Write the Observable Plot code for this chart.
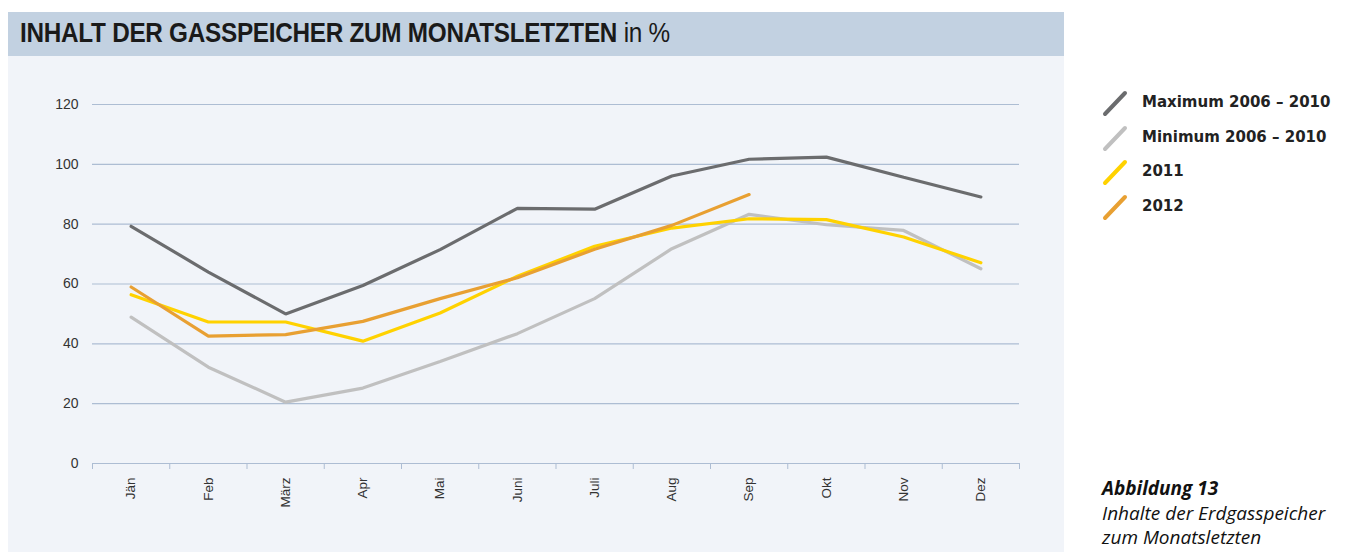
<!DOCTYPE html>
<html><head><meta charset="utf-8">
<script src="https://cdn.jsdelivr.net/npm/d3@7"></script>
<script src="https://cdn.jsdelivr.net/npm/@observablehq/plot@0.6"></script>
<style>
body{margin:0;background:#fff;width:1347px;height:552px;overflow:hidden;position:relative;font-family:"Liberation Sans",Arial,sans-serif;}
#panel{position:absolute;left:8px;top:12px;width:1056px;height:540px;background:#f1f4f9;}
#title{position:absolute;left:0;top:0;width:1056px;height:44px;background:#c2d1e1;overflow:hidden;}
#title span.b{position:absolute;left:12px;top:6px;font-family:"Liberation Sans",sans-serif;font-weight:bold;font-size:27px;color:#1a1a1a;white-space:nowrap;transform:scaleX(0.9);transform-origin:0 0;letter-spacing:-0.3px;}
#chart{position:absolute;left:0;top:44px;}
#legend{position:absolute;left:1100px;top:87px;font-family:"DejaVu Sans",sans-serif;font-weight:bold;font-size:15px;color:#222;}
#legend .row{position:relative;height:34.5px;}
#legend svg{position:absolute;left:0;top:0;}
#legend .lab{position:absolute;left:42px;top:6px;white-space:nowrap;}
#caption{position:absolute;left:1102px;top:476px;font-family:"Open Sans",sans-serif;font-style:italic;font-size:19px;color:#111;line-height:24.5px;white-space:nowrap;}
</style></head>
<body>
<div id="panel"><div id="title"><span class="b">INHALT DER GASSPEICHER ZUM MONATSLETZTEN <span style="font-weight:normal">in %</span></span></div><div id="chart"></div></div>
<div id="legend"></div>
<div id="caption"><b>Abbildung 13</b><br>Inhalte der Erdgasspeicher<br>zum Monatsletzten</div>
<script>
const months = ["Jän","Feb","März","Apr","Mai","Juni","Juli","Aug","Sep","Okt","Nov","Dez"];
const maxValues = [79.3,64.0,50.0,59.5,71.5,85.3,85.0,96.1,101.7,102.4,95.7,89.1];
const minValues = [48.9,32.2,20.5,25.2,34.1,43.4,55.1,71.8,83.3,79.8,77.9,65.1];
const values2011 = [56.4,47.3,47.3,40.9,50.3,62.6,72.6,78.7,81.8,81.5,75.7,67.1];
const values2012 = [59.0,42.6,43.1,47.5,55.1,62.1,71.6,79.6,89.9];
const seriesNames = ["Maximum 2006 – 2010","Minimum 2006 – 2010","2011","2012"];
const seriesColors = ["#6b6c6e","#c0c0c0","#ffd200","#e8a032"];
const yTicks = [0,20,40,60,80,100,120];

const allSeries = [maxValues,minValues,values2011,values2012];
const data = [];
allSeries.forEach((vals,si)=>vals.forEach((v,i)=>data.push({s:seriesNames[si],i:i+0.5,v})));

const gridColor = "#adbdd3";
const chart = Plot.plot({
  width:1056, height:496,
  marginLeft:84, marginRight:45, marginTop:48, marginBottom:89,
  style:{background:"transparent",fontFamily:"'Liberation Sans',Arial,sans-serif",color:"#333"},
  x:{domain:[0,12]},
  y:{domain:[0,120]},
  color:{domain:seriesNames,range:seriesColors},
  marks:[
    Plot.ruleY(yTicks,{stroke:gridColor,strokeWidth:1.2}),
    Plot.axisY({ticks:yTicks,tickSize:0,tickPadding:14,fontSize:14,label:null,fill:"#333"}),
    Plot.axisX({ticks:d3.range(0,13),tickSize:6,tickFormat:()=>"",stroke:gridColor,label:null}),
    Plot.axisX({ticks:months.map((m,i)=>i+0.5),tickSize:0,tickPadding:14,tickRotate:-90,tickFormat:d=>months[Math.floor(d)],fontSize:13.5,label:null,fill:"#333"}),
    Plot.line(data,{x:"i",y:"v",z:"s",stroke:"s",strokeWidth:3.2,strokeLinejoin:"miter"})
  ]
});
document.getElementById("chart").appendChild(chart);

const legend = document.getElementById("legend");
seriesNames.forEach((n,k)=>{
  const row=document.createElement("div");row.className="row";
  row.innerHTML=`<svg width="32" height="32"><line x1="5" y1="27" x2="25" y2="6" stroke="${seriesColors[k]}" stroke-width="4" stroke-linecap="round"/></svg><span class="lab">${n}</span>`;
  legend.appendChild(row);
});
</script>
</body></html>
